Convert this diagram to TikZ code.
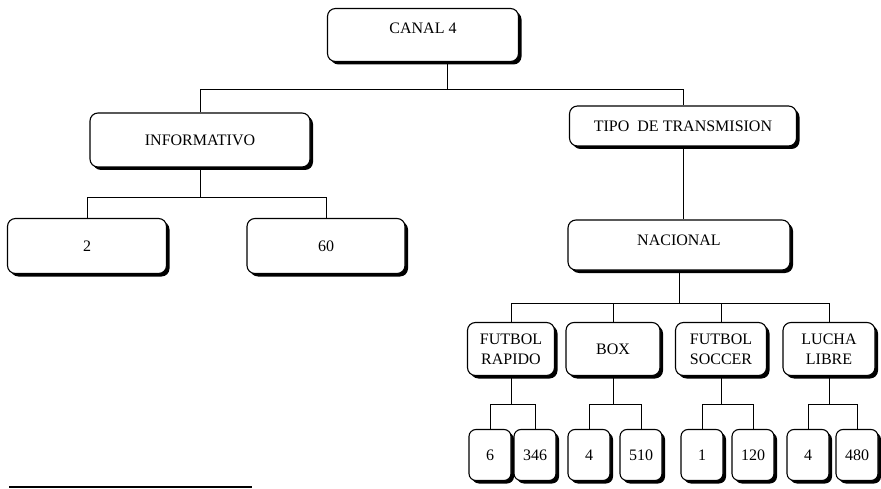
\documentclass[tikz,border=0pt]{standalone}
\usepackage{fontspec}
\setmainfont{Liberation Serif}
\usetikzlibrary{calc,shadows}

\begin{document}
\begin{tikzpicture}[
  x=1pt, y=-1pt,
  font=\rmfamily\fontsize{16}{20}\selectfont,
  tbox/.style={draw=black, fill=white, line width=1.1pt, rounded corners=8pt,
    align=center, inner sep=0pt,
    drop shadow={shadow xshift=3pt, shadow yshift=-3pt, fill=black, opacity=1}},
  catbox/.style={tbox, minimum height=53pt},
  leafbox/.style={tbox, rounded corners=7pt, minimum width=42pt, minimum height=51pt},
  link/.style={draw=black, line width=0.9pt},
]
\useasboundingbox (0,0) rectangle (881,489);

% ===== level 0 =====
\node[tbox, minimum width=191pt, minimum height=53pt, text depth=14pt] (canal) at (423,35) {CANAL 4};

% ===== level 1 =====
\node[tbox, minimum width=220pt, minimum height=54pt] (info) at (200,140) {INFORMATIVO};
\node[tbox, minimum width=227pt, minimum height=40pt] (tipo) at (683,126) {TIPO \ DE TRANSMISION};

% ===== level 2 =====
\node[tbox, minimum width=159pt, minimum height=55pt] (dos) at (87,246) {2};
\node[tbox, minimum width=158pt, minimum height=55pt] (sesenta) at (326,246) {60};
\node[tbox, minimum width=222pt, minimum height=50pt, text depth=10pt] (nacional) at (679,245) {NACIONAL};

% ===== level 3: sports =====
\node[catbox, minimum width=87pt] (frapido) at (511,349) {FUTBOL\\RAPIDO};
\node[catbox, minimum width=94pt] (box) at (613,349) {BOX};
\node[catbox, minimum width=91pt] (fsoccer) at (721,349) {FUTBOL\\SOCCER};
\node[catbox, minimum width=92pt] (lucha) at (829,349) {LUCHA\\LIBRE};

% ===== level 4: values =====
\node[leafbox] (fr1) at (490,455) {6};
\node[leafbox] (fr2) at (535,455) {346};
\node[leafbox] (bx1) at (589,455) {4};
\node[leafbox] (bx2) at (641,455) {510};
\node[leafbox] (fs1) at (702,455) {1};
\node[leafbox] (fs2) at (753,455) {120};
\node[leafbox] (ll1) at (808,455) {4};
\node[leafbox] (ll2) at (857,455) {480};

% ===== connectors =====
\draw[link] ($(canal.south)+(24,0)$) -- ++(0,27) coordinate (j0);
\draw[link] (info.north) |- (j0) -| (tipo.north);

\draw[link] (info.south) -- ++(0,30) coordinate (j1);
\draw[link] (dos.north) |- (j1) -| (sesenta.north);

\draw[link] (tipo.south) -- (tipo.south |- nacional.north);

\draw[link] (nacional.south) -- ++(0,33) coordinate (j2);
\draw[link] (frapido.north) |- (j2) -| (lucha.north);
\draw[link] (box.north) |- (j2);
\draw[link] (fsoccer.north) |- (j2);

\draw[link] (frapido.south) -- ++(0,28) coordinate (j3);
\draw[link] (fr1.north) |- (j3) -| (fr2.north);
\draw[link] (box.south) -- ++(0,28) coordinate (j4);
\draw[link] (bx1.north) |- (j4) -| (bx2.north);
\draw[link] (fsoccer.south) -- ++(0,28) coordinate (j5);
\draw[link] (fs1.north) |- (j5) -| (fs2.north);
\draw[link] (lucha.south) -- ++(0,28) coordinate (j6);
\draw[link] (ll1.north) |- (j6) -| (ll2.north);

% footnote rule
\draw[line width=1.2pt] (9,487) -- (252,487);

\end{tikzpicture}
\end{document}
